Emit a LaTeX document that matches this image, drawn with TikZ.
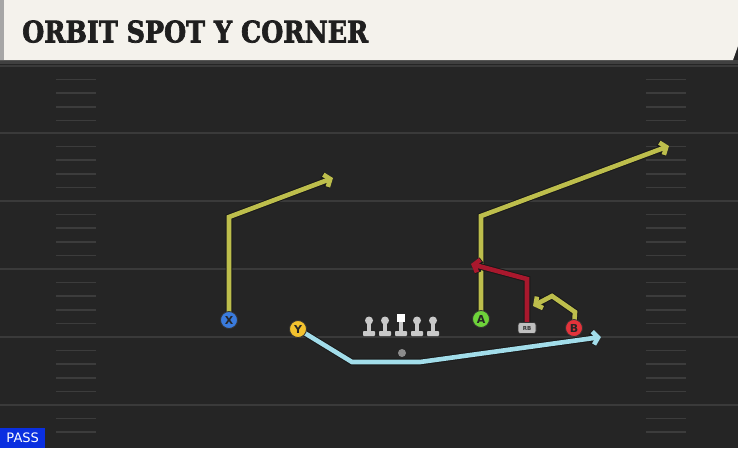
\documentclass[tikz,border=0pt]{standalone}
\usepackage{fontspec}
\setmainfont{DejaVu Sans}
\newfontfamily\titlefont[FakeBold=2.5]{DejaVu Serif}
\usetikzlibrary{arrows.meta}
\definecolor{field}{HTML}{252525}
\definecolor{yardln}{HTML}{3A3A3A}
\definecolor{hashc}{HTML}{3C3C3C}
\definecolor{titlebg}{HTML}{F4F2EC}
\definecolor{olive}{HTML}{BDBE4C}
\definecolor{skyb}{HTML}{A2DDEA}
\definecolor{crim}{HTML}{A9182D}
\definecolor{pblue}{HTML}{3A7BDD}
\definecolor{pyell}{HTML}{F3C22E}
\definecolor{pgreen}{HTML}{6ED33A}
\definecolor{pred}{HTML}{E3333B}
\definecolor{olc}{HTML}{C9C9C9}
\definecolor{passblue}{HTML}{0A2FE0}
\tikzset{
  route/.style={draw=#1, line width=4.6pt, line join=miter, line cap=butt,
    -{Straight Barb[length=5pt,width=13pt,line width=4.6pt]},
    preaction={draw=black!90, line width=6.6pt,
      -{Straight Barb[length=5pt,width=13pt,line width=6.6pt]}}},
  player/.style={circle, draw=black!80, line width=0.8pt, fill=#1, minimum size=17pt,
    inner sep=0pt, font=\bfseries\fontsize{11}{11}\selectfont, text=black!85},
  yard/.style={draw=yardln, line width=2pt},
  hash/.style={draw=hashc, line width=1.4pt},
  olhead/.style={circle, fill=olc, inner sep=0pt, minimum size=8pt},
}
\begin{document}
\begin{tikzpicture}[x=1pt,y=-1pt]
\useasboundingbox (0,0) rectangle (738,448);
% field
\fill[field] (0,0) rectangle (738,448);
\fill[black!75] (0,60) rectangle (738,64);
% yard lines
\foreach \y in {66,133,201,269,337,405} {\draw[yard] (0,\y) -- (738,\y);}
% hash marks
\foreach \b in {66,133,201,269,337} {
  \foreach \o in {13.5,27,41,54.5} {
    \draw[hash] (56,\b+\o) -- (96,\b+\o);
    \draw[hash] (646,\b+\o) -- (686,\b+\o);
  }
}
\draw[hash] (56,418.5) -- (96,418.5);
\draw[hash] (646,418.5) -- (686,418.5);
\draw[hash] (56,432) -- (96,432);
\draw[hash] (646,432) -- (686,432);
% title bar
\fill[titlebg] (0,0) -- (738,0) -- (738,46) -- (733,60) -- (0,60) -- cycle;
\fill[black!35] (0,0) rectangle (4,60);
\node[anchor=south west, inner sep=0pt, text=black!88] (title) at (22,43)
  {\resizebox{346pt}{22pt}{\titlefont\bfseries ORBIT SPOT Y CORNER}};
% player positions
\coordinate (pX) at (229,320);
\coordinate (pY) at (298,329);
\coordinate (pA) at (481,319);
\coordinate (pRB) at (527,328);
\coordinate (pB) at (574,328);
% route points
\coordinate (x1) at (229,217);
\coordinate (x2) at (333,178);
\coordinate (a1) at (481,216);
\coordinate (a2) at (669,146);
\coordinate (y1) at (352,362);
\coordinate (y2) at (420,362);
\coordinate (y3) at (601,337);
\coordinate (r1) at (527,279);
\coordinate (r2) at (471,264);
\coordinate (b1) at (575,312);
\coordinate (b2) at (552,296);
\coordinate (b3) at (533,306);
% routes
\draw[route=olive] (pX) -- (x1) -- (x2);
\draw[route=olive] (pA) -- (a1) -- (a2);
\draw[route=skyb] (pY) -- (y1) -- (y2) -- (y3);
\draw[route=crim] (pRB) -- (r1) -- (r2);
\draw[route=olive] (pB) -- (b1) -- (b2) -- (b3);
% offensive line
\foreach \x/\n in {369/1,385/2,417/4,433/5} {
  \fill[olc] (\x-2,322) rectangle (\x+2,332);
  \fill[olc, rounded corners=0.8pt] (\x-6,331) rectangle (\x+6,336);
  \node[olhead] (ol\n) at (\x,320.5) {};
}
\fill[olc] (399,322) rectangle (403,332);
\fill[olc, rounded corners=0.8pt] (395,331) rectangle (407,336);
\node[fill=white, inner sep=0pt, minimum size=8pt] (ol3) at (401,318) {};
% QB
\node[circle, fill=black!45, inner sep=0pt, minimum size=8pt] (qb) at (402,353) {};
% players
\node[player=pblue] (X) at (pX) {X};
\node[player=pyell] (Y) at (pY) {Y};
\node[player=pgreen] (A) at (pA) {A};
\node[player=pred] (B) at (pB) {B};
\node[draw=black!80, line width=0.6pt, fill=black!25, rounded corners=2.5pt, minimum width=18pt,
  minimum height=11pt, inner sep=0pt, font=\bfseries\fontsize{5.5}{5.5}\selectfont, text=black!80]
  (RB) at (pRB) {RB};
% PASS label
\node[fill=passblue, anchor=south west, minimum width=45pt, minimum height=20pt, inner sep=0pt,
  text=white, font=\fontsize{13}{13}\selectfont] (pass) at (0,448) {PASS};
\end{tikzpicture}
\end{document}
